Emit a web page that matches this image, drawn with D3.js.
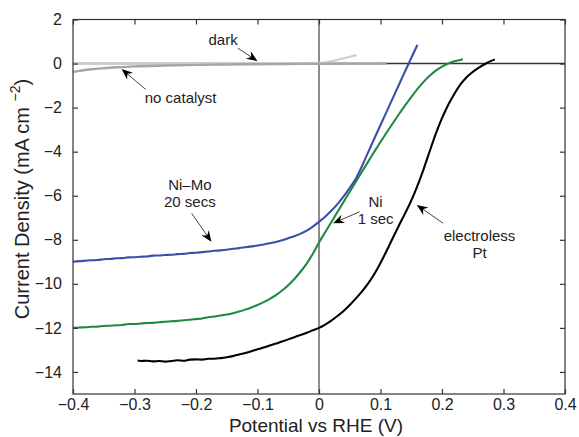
<!DOCTYPE html>
<html><head><meta charset="utf-8">
<script src="https://cdn.jsdelivr.net/npm/d3@7/dist/d3.min.js"></script>
<style>body{margin:0;background:#fff}svg{display:block}text{font-family:"Liberation Sans",Arial,Helvetica,sans-serif;fill:#222}</style>
</head><body><svg id="c" width="579" height="437"></svg>
<script>
const xTicks = [-0.4,-0.3,-0.2,-0.1,0,0.1,0.2,0.3,0.4];
const yTicks = [2,0,-2,-4,-6,-8,-10,-12,-14];
const xLabel = "Potential vs RHE (V)";

const niMo = [[-0.40,-9.00],[-0.39,-8.97],[-0.38,-8.95],[-0.37,-8.93],[-0.36,-8.92],[-0.35,-8.88],[-0.34,-8.87],[-0.33,-8.84],[-0.32,-8.83],[-0.31,-8.80],[-0.30,-8.79],[-0.29,-8.77],[-0.28,-8.76],[-0.27,-8.72],[-0.26,-8.71],[-0.25,-8.69],[-0.24,-8.68],[-0.23,-8.65],[-0.22,-8.64],[-0.21,-8.60],[-0.20,-8.59],[-0.19,-8.56],[-0.18,-8.53],[-0.17,-8.50],[-0.16,-8.48],[-0.15,-8.45],[-0.14,-8.41],[-0.13,-8.38],[-0.12,-8.34],[-0.11,-8.30],[-0.10,-8.26],[-0.09,-8.21],[-0.08,-8.16],[-0.07,-8.10],[-0.06,-8.02],[-0.05,-7.93],[-0.04,-7.84],[-0.03,-7.72],[-0.02,-7.58],[-0.01,-7.40],[0.00,-7.18],[0.01,-6.95],[0.02,-6.68],[0.03,-6.38],[0.04,-6.03],[0.05,-5.64],[0.06,-5.22],[0.07,-4.65],[0.08,-4.02],[0.09,-3.40],[0.10,-2.79],[0.11,-2.18],[0.12,-1.57],[0.13,-0.96],[0.14,-0.35],[0.15,0.25],[0.16,0.85]];

const ni1 = [[-0.40,-12.00],[-0.39,-11.98],[-0.38,-11.97],[-0.37,-11.95],[-0.36,-11.94],[-0.35,-11.91],[-0.34,-11.90],[-0.33,-11.88],[-0.32,-11.87],[-0.31,-11.82],[-0.30,-11.82],[-0.29,-11.80],[-0.28,-11.78],[-0.27,-11.77],[-0.26,-11.74],[-0.25,-11.72],[-0.24,-11.70],[-0.23,-11.68],[-0.22,-11.65],[-0.21,-11.63],[-0.20,-11.60],[-0.19,-11.57],[-0.18,-11.52],[-0.17,-11.48],[-0.16,-11.44],[-0.15,-11.39],[-0.14,-11.33],[-0.13,-11.26],[-0.12,-11.17],[-0.11,-11.07],[-0.10,-10.96],[-0.09,-10.83],[-0.08,-10.68],[-0.07,-10.51],[-0.06,-10.30],[-0.05,-10.06],[-0.04,-9.78],[-0.03,-9.45],[-0.02,-9.08],[-0.01,-8.63],[0.00,-8.12],[0.01,-7.66],[0.02,-7.20],[0.03,-6.74],[0.04,-6.28],[0.05,-5.82],[0.06,-5.36],[0.07,-4.90],[0.08,-4.45],[0.09,-4.00],[0.10,-3.56],[0.11,-3.13],[0.12,-2.71],[0.13,-2.30],[0.14,-1.90],[0.15,-1.52],[0.16,-1.16],[0.17,-0.83],[0.18,-0.55],[0.19,-0.32],[0.20,-0.14],[0.21,0.00],[0.22,0.10],[0.234,0.20]];

const pt = [[-0.295,-13.48],[-0.29,-13.50],[-0.28,-13.49],[-0.27,-13.52],[-0.26,-13.50],[-0.25,-13.53],[-0.24,-13.50],[-0.23,-13.47],[-0.22,-13.49],[-0.21,-13.44],[-0.20,-13.43],[-0.19,-13.44],[-0.18,-13.40],[-0.17,-13.40],[-0.16,-13.37],[-0.15,-13.33],[-0.14,-13.28],[-0.13,-13.21],[-0.12,-13.14],[-0.11,-13.06],[-0.10,-12.97],[-0.09,-12.89],[-0.08,-12.80],[-0.07,-12.71],[-0.06,-12.62],[-0.05,-12.52],[-0.04,-12.42],[-0.03,-12.32],[-0.02,-12.22],[-0.01,-12.11],[0.00,-12.00],[0.01,-11.85],[0.02,-11.67],[0.03,-11.46],[0.04,-11.23],[0.05,-10.96],[0.06,-10.66],[0.07,-10.34],[0.08,-9.98],[0.09,-9.55],[0.10,-9.05],[0.11,-8.50],[0.12,-7.92],[0.13,-7.35],[0.14,-6.80],[0.15,-6.22],[0.16,-5.55],[0.17,-4.80],[0.18,-3.98],[0.19,-3.18],[0.20,-2.48],[0.21,-1.88],[0.22,-1.38],[0.23,-0.95],[0.24,-0.62],[0.25,-0.38],[0.26,-0.18],[0.27,-0.02],[0.28,0.12],[0.286,0.19]];

const noCatalyst = [[-0.40,-0.38],[-0.39,-0.33],[-0.38,-0.29],[-0.37,-0.26],[-0.36,-0.23],[-0.35,-0.21],[-0.34,-0.19],[-0.32,-0.16],[-0.30,-0.13],[-0.25,-0.09],[-0.20,-0.06],[-0.15,-0.04],[-0.10,-0.03],[-0.05,-0.02],[0.00,-0.01],[0.11,0.00]];

const dark = [[-0.40,-0.02],[-0.30,-0.01],[-0.20,0.00],[-0.10,0.00],[-0.05,0.00],[-0.02,0.01],[0.00,0.03],[0.01,0.06],[0.02,0.11],[0.03,0.17],[0.04,0.24],[0.05,0.31],[0.061,0.38]];

const labels = [
  {lines:["dark"], v:-0.156, j:0.84, from:[-0.132,0.70], to:[-0.100,0.11]},
  {lines:["no catalyst"], v:-0.225, j:-1.79, from:[-0.282,-1.17], to:[-0.321,-0.25]},
  {lines:["Ni\u2013Mo","20 secs"], v:-0.210, j:-5.74, from:[-0.207,-6.80], to:[-0.175,-8.09]},
  {lines:["Ni","1 sec"], v:0.092, j:-6.50, from:[0.066,-6.73], to:[0.023,-7.25]},
  {lines:["electroless","Pt"], v:0.261, j:-8.04, from:[0.202,-7.25], to:[0.159,-6.42]}
];

const svg = d3.select("#c");
const L=73, R=565, T=19.5, B=394;
const x = d3.scaleLinear().domain([-0.4,0.4]).range([L,R]);
const y = d3.scaleLinear().domain([-15,2]).range([B,T]);
const line = d3.line().x(d=>x(d[0])).y(d=>y(d[1])).curve(d3.curveMonotoneX);

// zero lines
svg.append("line").attr("x1",x(0)).attr("x2",x(0)).attr("y1",T).attr("y2",B).attr("stroke","#707070").attr("stroke-width",1.6);
svg.append("line").attr("x1",L).attr("x2",R).attr("y1",y(0)).attr("y2",y(0)).attr("stroke","#333").attr("stroke-width",1.5);

// curves
svg.append("path").datum(dark).attr("d",line).attr("fill","none").attr("stroke","#cfcfcf").attr("stroke-width",2.2);
svg.append("path").datum(noCatalyst).attr("d",line).attr("fill","none").attr("stroke","#a6a6a6").attr("stroke-width",2.4);
svg.append("path").datum(pt).attr("d",line).attr("fill","none").attr("stroke","#000").attr("stroke-width",2.1);
svg.append("path").datum(ni1).attr("d",line).attr("fill","none").attr("stroke","#1f8a43").attr("stroke-width",2.1);
svg.append("path").datum(niMo).attr("d",line).attr("fill","none").attr("stroke","#3b4fa8").attr("stroke-width",2.1);

// frame & ticks
const axCol="#333";
svg.append("rect").attr("x",L).attr("y",T).attr("width",R-L).attr("height",B-T).attr("fill","none").attr("stroke",axCol).attr("stroke-width",1.2);
const tl=5;
const gx = svg.append("g").attr("transform",`translate(0,${B})`).call(d3.axisBottom(x).tickValues(xTicks).tickSizeInner(-tl).tickSizeOuter(0).tickPadding(5).tickFormat(d=>d===0?"0":d3.format(".1f")(d).replace("-","\u2212")));
const gxt = svg.append("g").attr("transform",`translate(0,${T})`).call(d3.axisTop(x).tickValues(xTicks).tickSizeInner(-tl).tickSizeOuter(0).tickFormat(""));
const gy = svg.append("g").attr("transform",`translate(${L},0)`).call(d3.axisLeft(y).tickValues(yTicks).tickSizeInner(-tl).tickSizeOuter(0).tickPadding(11).tickFormat(d=>String(d).replace("-","\u2212")));
const gyr = svg.append("g").attr("transform",`translate(${R},0)`).call(d3.axisRight(y).tickValues(yTicks).tickSizeInner(-tl).tickSizeOuter(0).tickFormat(""));
[gx,gxt,gy,gyr].forEach(g=>{g.select(".domain").remove();g.selectAll("line").attr("stroke",axCol).attr("stroke-width",1.2);g.selectAll("text").attr("font-size",16).attr("fill","#222").style("font-family","Liberation Sans, Arial, sans-serif");});

// axis titles
svg.append("text").attr("x",(L+R)/2-3).attr("y",432).attr("text-anchor","middle").attr("font-size",19).text(xLabel);
const yt = svg.append("text").attr("transform","translate(29,199) rotate(-90)").attr("text-anchor","middle").attr("font-size",20);
yt.append("tspan").text("Current Density (mA cm ");
yt.append("tspan").attr("dy",-9).attr("font-size",14).text("\u22122");
yt.append("tspan").attr("dy",9).text(")");

// annotations
function arrow(from,to){
  const x1=x(from[0]),y1=y(from[1]),x2=x(to[0]),y2=y(to[1]);
  const a=Math.atan2(y2-y1,x2-x1);
  svg.append("line").attr("x1",x1).attr("y1",y1).attr("x2",x2-Math.cos(a)*6).attr("y2",y2-Math.sin(a)*6).attr("stroke","#444").attr("stroke-width",1);
  svg.append("path").attr("d","M0,0L-11,-4.5L-7.5,0L-11,4.5Z").attr("fill","#000")
    .attr("transform",`translate(${x2},${y2}) rotate(${a*180/Math.PI})`);
}
labels.forEach(l=>{
  const t=svg.append("text").attr("text-anchor","middle").attr("font-size",15);
  l.lines.forEach((s,i)=>t.append("tspan").attr("x",x(l.v)).attr("y",y(l.j)+i*17).text(s));
  arrow(l.from,l.to);
});
</script></body></html>
